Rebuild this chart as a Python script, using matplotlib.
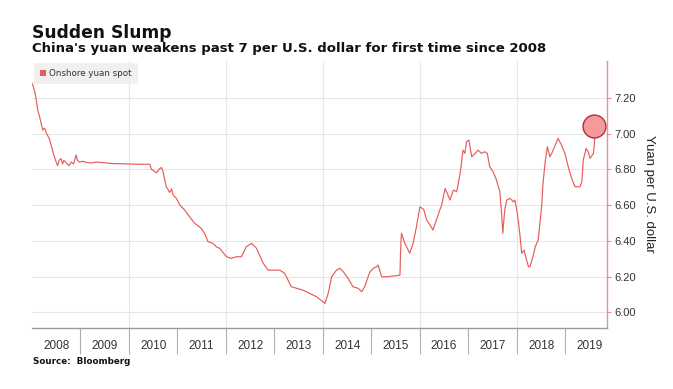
import matplotlib
matplotlib.use("Agg")
import matplotlib.pyplot as plt
from matplotlib.ticker import FixedLocator, NullFormatter
from matplotlib.patches import Patch

# ---- data (decimal year, CNY per USD) ----
years = [
    2008.00, 2008.02, 2008.07, 2008.12, 2008.17, 2008.22, 2008.26, 2008.30, 2008.32, 2008.36,
    2008.40, 2008.45, 2008.50, 2008.53,
    2008.56, 2008.60, 2008.63, 2008.66, 2008.71, 2008.76, 2008.81, 2008.86, 2008.91, 2008.94, 2008.98,
    2009.05, 2009.10, 2009.20, 2009.33, 2009.43, 2009.66, 2009.90, 2010.20, 2010.43,
    2010.46, 2010.52, 2010.57, 2010.62, 2010.67, 2010.70, 2010.77, 2010.80, 2010.84, 2010.88, 2010.91, 2010.98,
    2011.05, 2011.15, 2011.25, 2011.36, 2011.49, 2011.56, 2011.63, 2011.73, 2011.80, 2011.87,
    2012.01, 2012.11, 2012.22, 2012.32, 2012.42, 2012.53, 2012.63, 2012.77, 2012.87, 2012.97,
    2013.11, 2013.21, 2013.35, 2013.46, 2013.59, 2013.73, 2013.87, 2014.00, 2014.04,
    2014.11, 2014.18, 2014.28, 2014.35, 2014.42, 2014.52, 2014.62, 2014.73, 2014.80, 2014.86,
    2014.97, 2015.04, 2015.11, 2015.14, 2015.17, 2015.21, 2015.31, 2015.45, 2015.59,
    2015.60, 2015.62, 2015.69, 2015.76, 2015.79, 2015.86, 2015.93, 2016.00, 2016.08,
    2016.14, 2016.21, 2016.27, 2016.34, 2016.41, 2016.45, 2016.52, 2016.58, 2016.62,
    2016.69, 2016.76, 2016.83, 2016.89, 2016.93, 2016.96, 2017.01, 2017.07, 2017.14,
    2017.20, 2017.27, 2017.34, 2017.39, 2017.44, 2017.51, 2017.58, 2017.65, 2017.69,
    2017.71, 2017.75, 2017.79, 2017.86, 2017.93, 2017.96, 2018.01, 2018.06, 2018.10,
    2018.15, 2018.20, 2018.24, 2018.27, 2018.34, 2018.38, 2018.44, 2018.51, 2018.54,
    2018.58, 2018.63, 2018.68, 2018.72, 2018.79, 2018.85, 2018.92, 2018.99, 2019.06,
    2019.13, 2019.20, 2019.30, 2019.34, 2019.37, 2019.43, 2019.47, 2019.51, 2019.58,
    2019.60, 2019.61,
]
yuan = [
    7.28, 7.27, 7.22, 7.13, 7.08, 7.02, 7.03, 7.00, 6.99, 6.97,
    6.93, 6.88, 6.84, 6.82,
    6.85, 6.86, 6.83, 6.85, 6.835, 6.82, 6.84, 6.83, 6.88, 6.85, 6.84,
    6.845, 6.84, 6.835, 6.84, 6.838, 6.832, 6.830, 6.828, 6.828,
    6.80, 6.79, 6.78, 6.80, 6.81, 6.79, 6.70, 6.69, 6.67, 6.69, 6.656, 6.637,
    6.60, 6.572, 6.534, 6.497, 6.470, 6.442, 6.395, 6.386, 6.367, 6.358,
    6.311, 6.302, 6.311, 6.311, 6.367, 6.386, 6.358, 6.274, 6.236, 6.236,
    6.236, 6.218, 6.143, 6.134, 6.124, 6.106, 6.087, 6.059, 6.050,
    6.106, 6.199, 6.236, 6.246, 6.227, 6.190, 6.143, 6.134, 6.115, 6.143,
    6.227, 6.246, 6.255, 6.264, 6.236, 6.199, 6.199, 6.203, 6.208,
    6.331, 6.442, 6.386, 6.348, 6.330, 6.386, 6.479, 6.590, 6.576,
    6.516, 6.488, 6.460, 6.516, 6.572, 6.600, 6.693, 6.656, 6.628,
    6.684, 6.674, 6.777, 6.907, 6.889, 6.954, 6.963, 6.870, 6.889,
    6.907, 6.889, 6.898, 6.889, 6.814, 6.786, 6.740, 6.674, 6.534,
    6.442, 6.572, 6.628, 6.637, 6.618, 6.628, 6.553, 6.442, 6.330,
    6.348, 6.292, 6.255, 6.255, 6.320, 6.367, 6.404, 6.590, 6.721,
    6.833, 6.926, 6.870, 6.889, 6.935, 6.973, 6.935, 6.889, 6.814,
    6.749, 6.702, 6.702, 6.730, 6.852, 6.917, 6.898, 6.861, 6.889,
    6.945, 7.03,
]
highlight_year = 2019.60
highlight_value = 7.04

year_labels = [str(y) for y in range(2008, 2020)]
y_ticks = [6.00, 6.20, 6.40, 6.60, 6.80, 7.00, 7.20]

LINE = "#e65c5c"
SPINE = "#ef8f8f"
plt.rcParams["font.family"] = ["Liberation Sans", "DejaVu Sans"]
HEAD = ["DejaVu Sans"]

fig = plt.figure(figsize=(6.73, 3.89), dpi=100)
ax = fig.add_axes([0.0475, 0.158, 0.8545, 0.685])

ax.set_xlim(2008.0, 2019.86)
ax.set_ylim(5.915, 7.405)

# grid
for yv in y_ticks:
    ax.axhline(yv, color="#e6e6e6", lw=0.8, zorder=0)
for xv in range(2010, 2020, 2):
    ax.axvline(xv, color="#e6e6e6", lw=0.8, zorder=0)

ax.plot(years, yuan, color=LINE, lw=0.85, zorder=3)
ax.scatter([highlight_year], [highlight_value], s=270, facecolor="#f59a9a",
           edgecolor="#b0303a", linewidth=1.0, zorder=4)

# spines
for s in ["left", "top"]:
    ax.spines[s].set_visible(False)
ax.spines["bottom"].set_color("#9a9a9a")
ax.spines["bottom"].set_linewidth(1.0)
ax.spines["right"].set_color(SPINE)
ax.spines["right"].set_linewidth(1.0)

# y axis on the right
ax.yaxis.tick_right()
ax.yaxis.set_label_position("right")
ax.set_yticks(y_ticks)
ax.set_yticklabels([f"{v:.2f}" for v in y_ticks], fontsize=8, color="#333333")
ax.tick_params(axis="y", which="major", direction="out", length=3, width=0.8,
               color=SPINE, pad=2)
ax.set_ylabel("Yuan per U.S. dollar", rotation=270, labelpad=14, fontsize=9.5,
              color="#222222")

# x axis: year labels centred, separators at boundaries
ax.xaxis.set_major_locator(FixedLocator([y + 0.5 for y in range(2008, 2020)]))
ax.set_xticklabels(year_labels, fontsize=8.5, color="#333333")
ax.xaxis.set_minor_locator(FixedLocator(list(range(2009, 2020))))
ax.xaxis.set_minor_formatter(NullFormatter())
ax.tick_params(axis="x", which="major", length=0, pad=9)
ax.tick_params(axis="x", which="minor", length=19, width=0.8, color="#b0b0b0",
               direction="out")

leg = ax.legend(handles=[Patch(facecolor=LINE, edgecolor="none")],
                labels=["Onshore yuan spot"],
                loc="upper left", bbox_to_anchor=(0.0, 1.0), frameon=True,
                prop={"family": HEAD, "size": 6.3},
                handlelength=0.75, handleheight=0.75, handletextpad=0.35,
                borderpad=0.7, borderaxespad=0.2, fancybox=False)
leg.get_frame().set_facecolor("#f0f0f0")
leg.get_frame().set_edgecolor("none")
leg.get_frame().set_alpha(1)
for t in leg.get_texts():
    t.set_color("#333333")

fig.text(0.048, 1 - 38 / 389, "Sudden Slump", fontsize=12.3, fontweight="bold",
         family=HEAD, color="#111111", va="baseline")
fig.text(0.048, 1 - 52 / 389,
         "China's yuan weakens past 7 per U.S. dollar for first time since 2008",
         fontsize=9.5, fontweight="bold", family=HEAD, color="#111111", va="baseline")
fig.text(0.049, 1 - 364 / 389, "Source:  Bloomberg", fontsize=6.3, fontweight="bold",
         family=HEAD, color="#111111", va="baseline")

fig.savefig("out.png", dpi=100)
